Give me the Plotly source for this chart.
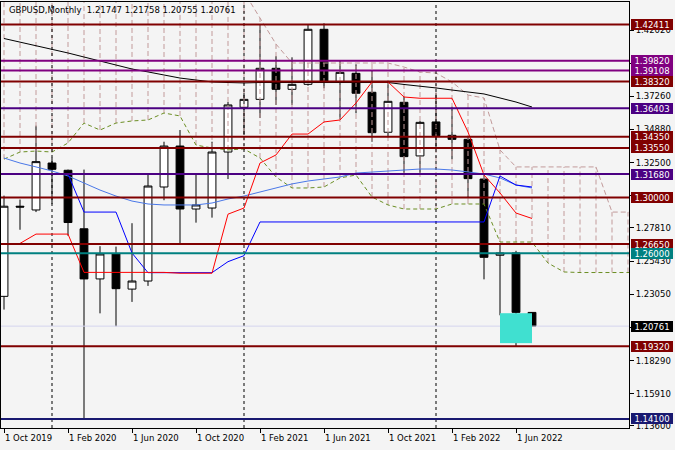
import plotly.graph_objects as go

# ---------------- data ----------------
months = ["Oct 2019", "Nov 2019", "Dec 2019", "Jan 2020", "Feb 2020", "Mar 2020", "Apr 2020",
          "May 2020", "Jun 2020", "Jul 2020", "Aug 2020", "Sep 2020", "Oct 2020", "Nov 2020",
          "Dec 2020", "Jan 2021", "Feb 2021", "Mar 2021", "Apr 2021", "May 2021", "Jun 2021",
          "Jul 2021", "Aug 2021", "Sep 2021", "Oct 2021", "Nov 2021", "Dec 2021", "Jan 2022",
          "Feb 2022", "Mar 2022", "Apr 2022", "May 2022", "Jun 2022", "Jul 2022"]
opens = [1.2290, 1.2937, 1.2910, 1.3247, 1.3195, 1.2775, 1.2415, 1.2594, 1.2342, 1.2400,
         1.3075, 1.3369, 1.2917, 1.2924, 1.3326, 1.3647, 1.3704, 1.3927, 1.3776, 1.3812,
         1.4207, 1.3827, 1.3891, 1.3755, 1.3468, 1.3683, 1.3298, 1.3542, 1.3446, 1.3417,
         1.3132, 1.2585, 1.2601, 1.21747]
highs = [1.3013, 1.2985, 1.3515, 1.3285, 1.3200, 1.3200, 1.2650, 1.2647, 1.2815, 1.3168,
         1.3400, 1.3484, 1.3175, 1.3400, 1.3685, 1.3752, 1.4238, 1.4015, 1.4006, 1.4238,
         1.4250, 1.3982, 1.3956, 1.3910, 1.3824, 1.3723, 1.3548, 1.3749, 1.3651, 1.3437,
         1.3168, 1.2667, 1.2617, 1.21758]
lows = [1.2195, 1.2768, 1.2895, 1.2954, 1.2725, 1.1410, 1.2168, 1.2075, 1.2250, 1.2365,
        1.2980, 1.2673, 1.2819, 1.2855, 1.3132, 1.3448, 1.3570, 1.3664, 1.3664, 1.3802,
        1.3784, 1.3563, 1.3604, 1.3400, 1.3432, 1.3175, 1.3168, 1.3358, 1.3274, 1.2994,
        1.2412, 1.2154, 1.1932, 1.20755]
closes = [1.2937, 1.2931, 1.3257, 1.3202, 1.2820, 1.2415, 1.2594, 1.2345, 1.2400, 1.3082,
          1.3369, 1.2917, 1.2946, 1.3326, 1.3664, 1.3704, 1.3927, 1.3776, 1.3812, 1.4207,
          1.3827, 1.3898, 1.3748, 1.3465, 1.3690, 1.3293, 1.3539, 1.3443, 1.3417, 1.3135,
          1.2570, 1.2601, 1.2175, 1.20761]

tenkan = [None, 1.2670, 1.2737, 1.2737, 1.2737, 1.2462, 1.2462, 1.2462, 1.2462, 1.2462,
          1.2462, 1.2456, 1.2456, 1.2456, 1.2880, 1.2924, 1.3247, 1.3305, 1.3455, 1.3455,
          1.3542, 1.3556, 1.3678, 1.3829, 1.3829, 1.3721, 1.3712, 1.3712, 1.3712, 1.3470,
          1.3161, 1.3032, 1.2888, 1.2849]
kijun = [1.3168, 1.3168, 1.3168, 1.3168, 1.3168, 1.2895, 1.2895, 1.2895, 1.2601, 1.2460,
         1.2460, 1.2460, 1.2460, 1.2460, 1.2539, 1.2582, 1.2824, 1.2824, 1.2824, 1.2824,
         1.2824, 1.2824, 1.2824, 1.2824, 1.2824, 1.2824, 1.2824, 1.2824, 1.2824, 1.2824,
         1.2824, 1.3154, 1.3089, 1.3075]
ma_blue = [1.3283, 1.3247, 1.3219, 1.3190, 1.3154, 1.3104, 1.3053, 1.3010, 1.2974, 1.2953,
           1.2946, 1.2946, 1.2946, 1.2960, 1.2989, 1.3010, 1.3039, 1.3068, 1.3097, 1.3118,
           1.3132, 1.3147, 1.3175, 1.3183, 1.3190, 1.3201, 1.3204, 1.3204, 1.3197, 1.3183,
           1.3168, 1.3140, 1.3089, 1.3068]
ma_black = [1.4141, 1.4116, 1.4087, 1.4066, 1.4037, 1.4008, 1.3980, 1.3951, 1.3922, 1.3901,
            1.3879, 1.3857, 1.3843, 1.3829, 1.3825, 1.3822, 1.3825, 1.3825, 1.3825, 1.3825,
            1.3825, 1.3825, 1.3825, 1.3825, 1.3825, 1.3811, 1.3800, 1.3786, 1.3771, 1.3757,
            1.3743, 1.3714, 1.3685, 1.3649]
span_a = [1.3275, 1.3326, 1.3333, 1.3326, 1.3391, 1.3534, 1.3484, 1.3534, 1.3549, 1.3556,
          1.3606, 1.3585, 1.3376, 1.3355, 1.3341, 1.3348, 1.3283, 1.3147, 1.3068, 1.3068,
          1.3075, 1.3140, 1.3161, 1.3003, 1.2946, 1.2917, 1.2917, 1.2917, 1.2953, 1.2953,
          1.2953, 1.2680, 1.2680, 1.2680, 1.2529, 1.2465, 1.2461, 1.2461, 1.2461, 1.2461,
          1.2461]
span_b = [1.4700, 1.4700, 1.4700, 1.4700, 1.4700, 1.4700, 1.4700, 1.4700, 1.4700, 1.4700,
          1.4700, 1.4700, 1.4700, 1.4700, 1.4700, 1.4475, 1.4288, 1.4101, 1.3965, 1.3965,
          1.3965, 1.3965, 1.3965, 1.3965, 1.3965, 1.3936, 1.3900, 1.3893, 1.3829, 1.3735,
          1.3714, 1.3341, 1.3219, 1.3219, 1.3219, 1.3219, 1.3219, 1.3219, 1.2895, 1.2895,
          1.2895]

levels = [1.42411, 1.39820, 1.39108, 1.38320, 1.36403, 1.34350, 1.33550, 1.31680,
          1.30000, 1.26650, 1.26000, 1.19320, 1.14100]
current_price = 1.20761
zone_x = [31, 33]
zone_y = [1.1954, 1.2169]
year_seps = [3, 15, 27]
price_ticks = [1.42020, 1.39640, 1.37260, 1.34880, 1.32500, 1.30120, 1.27810, 1.25430,
               1.23050, 1.20670, 1.18290, 1.15910, 1.13600]
date_labels = ["1 Oct 2019", "1 Feb 2020", "1 Jun 2020", "1 Oct 2020", "1 Feb 2021",
               "1 Jun 2021", "1 Oct 2021", "1 Feb 2022", "1 Jun 2022"]
date_pos = [0, 4, 8, 12, 16, 20, 24, 28, 32]
header = "GBPUSD,Monthly  1.21747 1.21758 1.20755 1.20761"

# ---------------- styles ----------------
DR, PU, IN, TE, NV = "#800000", "#800080", "#4B0082", "#008080", "#191970"
level_colors = [DR, PU, PU, DR, IN, DR, DR, IN, DR, DR, TE, DR, NV]
FONT = "DejaVu Sans"
XMIN, XMAX = -0.1875, 39.0625
YMIN, YMAX = 1.13449, 1.44030

idx = list(range(len(opens)))
cloud_idx = list(range(len(span_a)))

fig = go.Figure()

# cloud hatch
hx, hy = [], []
for i in cloud_idx:
    hx += [i, i, None]
    hy += [span_a[i], span_b[i], None]
fig.add_trace(go.Scatter(x=hx, y=hy, mode="lines", line=dict(color="#C29A9A", width=1, dash="5px,3px"),
                         hoverinfo="skip", showlegend=False))
fig.add_trace(go.Scatter(x=cloud_idx, y=span_b, mode="lines",
                         line=dict(color="#C29A9A", width=1, dash="5px,3px"), showlegend=False))
fig.add_trace(go.Scatter(x=cloud_idx, y=span_a, mode="lines",
                         line=dict(color="#6B8E23", width=1, dash="4px,3px"), showlegend=False))

# year separators
for s in year_seps:
    fig.add_trace(go.Scatter(x=[s, s], y=[YMIN, YMAX], mode="lines",
                             line=dict(color="black", width=1, dash="3px,3px"), showlegend=False))

# indicator lines
fig.add_trace(go.Scatter(x=idx, y=ma_blue, mode="lines", line=dict(color="#4A78E8", width=1), showlegend=False))
fig.add_trace(go.Scatter(x=idx, y=ma_black, mode="lines", line=dict(color="black", width=1), showlegend=False))
fig.add_trace(go.Scatter(x=idx, y=kijun, mode="lines", line=dict(color="#0000FF", width=1), showlegend=False))
fig.add_trace(go.Scatter(x=idx, y=tenkan, mode="lines", line=dict(color="#FF0000", width=1), showlegend=False))

# current price line
fig.add_trace(go.Scatter(x=[XMIN, XMAX], y=[current_price, current_price], mode="lines",
                         line=dict(color="#D4D4EE", width=1), showlegend=False))
# horizontal levels
for v, c in zip(levels, level_colors):
    fig.add_trace(go.Scatter(x=[XMIN, XMAX], y=[v, v], mode="lines",
                             line=dict(color=c, width=2), showlegend=False))

# cyan zone
fig.add_trace(go.Scatter(x=[zone_x[0], zone_x[1], zone_x[1], zone_x[0], zone_x[0]],
                         y=[zone_y[0], zone_y[0], zone_y[1], zone_y[1], zone_y[0]],
                         mode="lines", fill="toself", fillcolor="#40E0D0",
                         line=dict(color="#40E0D0", width=0), showlegend=False))

# candles
fig.add_trace(go.Candlestick(x=idx, open=opens, high=highs, low=lows, close=closes,
                             text=months, whiskerwidth=0,
                             increasing=dict(fillcolor="white", line=dict(color="black", width=1)),
                             decreasing=dict(fillcolor="black", line=dict(color="black", width=1)),
                             showlegend=False))

ann = []
# level labels
for v, c in zip(levels + [current_price], level_colors + ["black"]):
    ann.append(dict(xref="paper", yref="y", x=630 / 628, y=v, xanchor="left", yanchor="middle",
                    text=f"{v:.5f}", showarrow=False, bgcolor=c, borderpad=0, borderwidth=0,
                    width=42, height=11, font=dict(family=FONT, size=8.5, color="white")))
# date labels
for p, t in zip(date_pos, date_labels):
    ann.append(dict(xref="x", yref="paper", x=p, y=-10 / 426, xanchor="left", yanchor="middle",
                    text=t, showarrow=False, xshift=-1, font=dict(family=FONT, size=8.5, color="black")))
# header
ann.append(dict(xref="paper", yref="paper", x=6 / 628, y=1 - 8 / 426, xanchor="left", yanchor="middle",
                text=header, showarrow=False, font=dict(family=FONT, size=8.5, color="black")))

fig.update_layout(
    width=675, height=450, autosize=False,
    margin=dict(l=1, r=46, t=2, b=22),
    paper_bgcolor="#F4F4F4", plot_bgcolor="#F4F4F4",
    showlegend=False, boxgap=0.3,
    annotations=ann,
    xaxis=dict(range=[XMIN, XMAX], showgrid=False, zeroline=False, rangeslider=dict(visible=False),
               tickmode="array", tickvals=date_pos, ticks="outside", ticklen=4, tickcolor="black",
               showticklabels=False, showline=True, linecolor="black", linewidth=1, mirror=True),
    yaxis=dict(range=[YMIN, YMAX], side="right", showgrid=False, zeroline=False,
               tickmode="array", tickvals=price_ticks, ticktext=[f"{t:.5f}" for t in price_ticks],
               ticks="outside", ticklen=4, tickcolor="black",
               tickfont=dict(family=FONT, size=8.5, color="black"),
               showline=True, linecolor="black", linewidth=1, mirror=True),
)

fig.write_html("out.html", config={"displayModeBar": False},
               post_script="document.body.style.margin='0';document.body.style.padding='0';"
                           "document.body.style.background='#F4F4F4';")
